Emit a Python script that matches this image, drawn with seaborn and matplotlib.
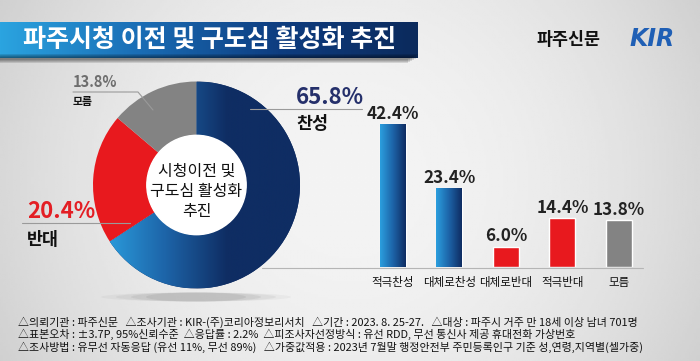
import numpy as np
import matplotlib
matplotlib.use("Agg")
import matplotlib.pyplot as plt
from matplotlib.colors import LinearSegmentedColormap
from matplotlib.patches import Ellipse, Circle, Rectangle
import seaborn as sns

title = "파주시청 이전 및 구도심 활성화 추진"
source = "파주신문"
center_text = "시청이전 및\n구도심 활성화\n추진"

pie_labels = ["찬성", "반대", "모름"]
pie_values = [65.8, 20.4, 13.8]

bar_labels = ["적극찬성", "대체로찬성", "대체로반대", "적극반대", "모름"]
bar_values = [42.4, 23.4, 6.0, 14.4, 13.8]

notes = [
    "△의뢰기관 : 파주신문   △조사기관 : KIR-(주)코리아정보리서치   △기간 : 2023. 8. 25-27.   △대상 : 파주시 거주 만 18세 이상 남녀 701명",
    "△표본오차 : ±3.7P, 95%신뢰수준  △응답률 : 2.2%  △피조사자선정방식 : 유선 RDD, 무선 통신사 제공 휴대전화 가상번호",
    "△조사방법 : 유무선 자동응답 (유선 11%, 무선 89%)   △가중값적용 : 2023년 7월말 행정안전부 주민등록인구 기준 성,연령,지역별(셀가중)",
]

sns.set_theme(style="white")
plt.rcParams["font.family"] = ["Noto Sans CJK KR", "DejaVu Sans"]

NAVY = "#0f2d63"
LIGHT = "#2b9ede"
RED = "#e8191e"
GRAY = "#838383"
blue_cmap = LinearSegmentedColormap.from_list("blue", [LIGHT, "#1d64a8", NAVY])
banner_cmap = LinearSegmentedColormap.from_list("banner", ["#2ba4e0", "#1a6db5", "#0e3d80", "#0b2a5c"])

fig = plt.figure(figsize=(7, 3.61), dpi=100)

# background gradient
bg = fig.add_axes([0, 0, 1, 1], zorder=0)
X, Y = np.meshgrid(np.linspace(-1, 1, 300), np.linspace(-1, 1, 160))
shade = 0.955 - 0.11 * X**2 - 0.03 * Y**2
bg.imshow(shade, cmap="gray", vmin=0, vmax=1, extent=(0, 700, 361, 0), aspect="auto")

# title banner with shadow
for i in range(6):
    bg.add_patch(Rectangle((0, 54 + i), 418 - i * 2, 4, color="black", alpha=0.12, lw=0))
bg.imshow(np.linspace(0, 1, 256).reshape(1, -1), cmap=banner_cmap,
          extent=(0, 418, 58, 22), aspect="auto")

# soft shadow under the donut
for w, a in [(190, 0.05), (160, 0.07), (130, 0.09), (100, 0.1)]:
    bg.add_patch(Ellipse((196, 297), w, 9, color="#555555", alpha=a, lw=0))
bg.set_xlim(0, 700)
bg.set_ylim(361, 0)
bg.axis("off")

# donut
don = fig.add_axes([93 / 700, (361 - 288.5) / 361, 207 / 700, 207 / 361], zorder=2)
wedges, _ = don.pie(pie_values, colors=[NAVY, RED, GRAY], startangle=90,
                    counterclock=False, radius=1,
                    wedgeprops=dict(width=0.52, edgecolor="none"))
gx = np.clip((np.linspace(-1, 1, 256) + 0.9) / 1.2, 0, 1)
im = don.imshow(gx.reshape(1, -1), cmap=blue_cmap, vmin=0, vmax=1,
                extent=(-1, 1, -1, 1), aspect="auto", zorder=3)
im.set_clip_path(wedges[0])
don.add_patch(Circle((0, 0), 0.48, color="white", zorder=4))
don.text(0, -0.06, center_text, ha="center", va="center", fontsize=11.5,
         linespacing=1.25, color="#111111", zorder=5)
don.set_xlim(-1, 1)
don.set_ylim(-1, 1)
don.axis("off")

# bars
bx = fig.add_axes([360 / 700, (361 - 267) / 361, 283 / 700, 167 / 361], zorder=2)
bx.patch.set_alpha(0)
sns.barplot(x=bar_labels, y=bar_values, hue=bar_labels,
            palette=[NAVY, NAVY, RED, RED, GRAY], legend=False,
            width=0.46, saturation=1, ax=bx)
bars = sorted(bx.patches, key=lambda p: p.get_x())
for p in bars[:2]:
    gim = bx.imshow(np.linspace(0, 1, 64).reshape(1, -1), cmap=blue_cmap,
                    extent=(p.get_x(), p.get_x() + p.get_width(), 0, p.get_height()),
                    aspect="auto", zorder=3)
    gim.set_clip_path(p)
for i, v in enumerate(bar_values):
    bx.annotate(f"{v:.1f}%", (i, v), xytext=(0, 7.5), textcoords="offset points",
                ha="center", va="center", fontsize=12.3, fontweight="bold",
                color="#222222", annotation_clip=False)
    bx.annotate(bar_labels[i], (i, 0), xytext=(0, -11), textcoords="offset points",
                ha="center", va="center", fontsize=8.3, color="#111111",
                annotation_clip=False)
bx.set_xlim(-0.584, 4.425)
bx.set_ylim(0, 49.55)
bx.axis("off")

# overlay: leader lines and texts
ov = fig.add_axes([0, 0, 1, 1], zorder=5)
ov.patch.set_alpha(0)
ov.set_xlim(0, 700)
ov.set_ylim(361, 0)
ov.axis("off")

line_kw = dict(color="#9a9a9a", lw=0.8)
ov.plot([250, 362], [109, 109], **line_kw)
ov.plot([262, 643], [267.5, 267.5], color="#b5b5b5", lw=0.8)
ov.plot([22, 130], [223, 223], **line_kw)
ov.plot([73, 138, 153], [92, 92, 110], **line_kw)

ov.text(210, 40, title, ha="center", va="center", fontsize=18,
        fontweight="bold", color="white")
ov.text(569, 40, source, ha="center", va="center", fontsize=12.5,
        fontweight="bold", color="#111111")
ov.text(652, 39, "KIR", ha="center", va="center", fontsize=17,
        fontweight="black", fontstyle="italic", color="#1f5fb5",
        family="DejaVu Sans")

ov.text(296, 97, f"{pie_values[0]}%", ha="left", va="center", fontsize=16,
        fontweight="bold", color="#25306b")
ov.text(296, 124, pie_labels[0], ha="left", va="center", fontsize=12.5,
        fontweight="bold", color="#111111")
ov.text(27, 212, f"{pie_values[1]}%", ha="left", va="center", fontsize=16,
        fontweight="bold", color="#e31e24")
ov.text(27, 240, pie_labels[1], ha="left", va="center", fontsize=12.5,
        fontweight="bold", color="#111111")
ov.text(73, 82, f"{pie_values[2]}%", ha="left", va="center", fontsize=10.5,
        fontweight="bold", color="#6e6e6e")
ov.text(73, 102, pie_labels[2], ha="left", va="center", fontsize=7.8,
        fontweight="bold", color="#111111")

for i, line in enumerate(notes):
    ov.text(18, 322 + 12.5 * i, line, ha="left", va="center", fontsize=7.9,
            color="#111111")

fig.savefig("out.png", dpi=100)
